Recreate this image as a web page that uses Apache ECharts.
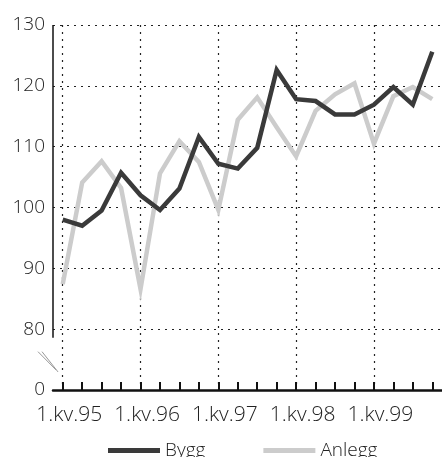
<!DOCTYPE html>
<html>
<head>
<meta charset="utf-8">
<script src="https://cdn.jsdelivr.net/npm/echarts@6/dist/echarts.min.js"></script>
<style>
html,body{margin:0;padding:0;background:#fff;}
#c{width:442px;height:457px;}
</style>
</head>
<body>
<div id="c"></div>
<script>
const categories = [
  '1.kv.95','2.kv.95','3.kv.95','4.kv.95',
  '1.kv.96','2.kv.96','3.kv.96','4.kv.96',
  '1.kv.97','2.kv.97','3.kv.97','4.kv.97',
  '1.kv.98','2.kv.98','3.kv.98','4.kv.98',
  '1.kv.99','2.kv.99','3.kv.99','4.kv.99'
];
const bygg = [98, 97, 99.5, 105.7, 102, 99.6, 103.1, 111.6, 107.2, 106.4, 109.8, 122.6, 117.8, 117.5, 115.3, 115.3, 116.9, 119.8, 116.9, 125.6];
const anlegg = [87.4, 104.1, 107.6, 103.2, 86.6, 105.6, 110.9, 107.5, 99.6, 114.4, 118.1, 113.2, 108.4, 115.9, 118.6, 120.4, 110.5, 118.3, 119.8, 117.8];
const seriesNames = ['Bygg', 'Anlegg'];
const yMin = 70, yMax = 130, yStep = 10;
const brokenLabel = '0';

const FONT = '"Open Sans", sans-serif';
const FW = 300;
const chart = echarts.init(document.getElementById('c'), null, {renderer: 'canvas'});
const option = {
  animation: false,
  backgroundColor: '#fff',
  grid: {left: 53, right: -6, top: 25, bottom: 67, containLabel: false},
  legend: {
    left: 103, top: 436,
    itemWidth: 52, itemHeight: 5, itemGap: 58,
    icon: 'rect',
    textStyle: {fontFamily: FONT, fontSize: 19, fontWeight: FW, color: '#222', padding: [0,0,0,0]},
    data: seriesNames
  },
  xAxis: {
    type: 'category',
    data: categories,
    boundaryGap: true,
    axisLine: {show: true, lineStyle: {color: '#111', width: 2.5}},
    axisTick: {show: true, inside: true, length: 8, alignWithLabel: true, interval: 0, lineStyle: {color: '#111', width: 2}},
    axisLabel: {interval: 3, margin: 15, padding: [0, 0, 0, 13], fontFamily: FONT, fontSize: 21, fontWeight: FW, color: '#222'},
    splitLine: {show: true, interval: 3, alignWithLabel: true, lineStyle: {color: '#222', width: 1.2, type: [2, 5]}}
  },
  yAxis: {
    type: 'value',
    min: yMin, max: yMax, interval: yStep,
    axisLine: {show: false},
    axisTick: {show: false},
    axisLabel: {margin: 8, fontFamily: FONT, fontSize: 19, fontWeight: FW, color: '#222',
      formatter: v => v === yMin ? brokenLabel : String(v)},
    splitLine: {show: true, lineStyle: {color: '#222', width: 1.2, type: [2, 5]}}
  },
  series: [
    {name: seriesNames[0], type: 'line', data: bygg, symbol: 'none', z: 3,
     itemStyle: {color: '#3a3a3a'}, lineStyle: {color: '#3a3a3a', width: 4.5, join: 'miter'}},
    {name: seriesNames[1], type: 'line', data: anlegg, symbol: 'none', z: 2,
     itemStyle: {color: '#cccccc'}, lineStyle: {color: '#cccccc', width: 4.5, join: 'miter'}}
  ]
};
chart.setOption(option);

// y-axis line with break marks, positioned through the axis scales
const yTopPx = chart.convertToPixel({yAxisIndex: 0}, yMax);
const lineEndPx = chart.convertToPixel({yAxisIndex: 0}, 78.6);
const bStartPx = chart.convertToPixel({yAxisIndex: 0}, 76.3);
const bEndPx = chart.convertToPixel({yAxisIndex: 0}, 73.3);
const x0 = 53;
chart.setOption({
  graphic: [
    {type: 'line', z: 10, shape: {x1: x0, y1: yTopPx, x2: x0, y2: lineEndPx}, style: {stroke: '#111', lineWidth: 1.5}},
    {type: 'line', z: 10, shape: {x1: x0 - 15, y1: bStartPx, x2: x0 + 3, y2: bEndPx}, style: {stroke: '#999', lineWidth: 1}},
    {type: 'line', z: 10, shape: {x1: x0 - 11, y1: bStartPx, x2: x0 + 5, y2: bEndPx + 2}, style: {stroke: '#999', lineWidth: 1}}
  ]
});
</script>
</body>
</html>
